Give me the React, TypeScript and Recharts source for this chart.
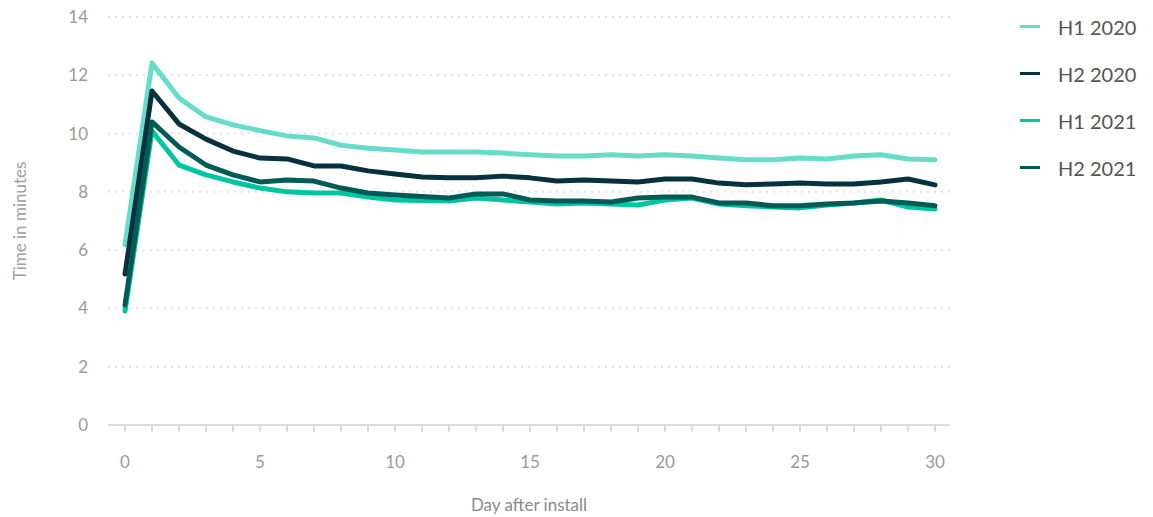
import React from 'react';
import { LineChart, Line, XAxis, YAxis, CartesianGrid } from 'recharts';

// days after install, 0..30
const days = [0, 1, 2, 3, 4, 5, 6, 7, 8, 9, 10, 11, 12, 13, 14, 15, 16, 17, 18, 19, 20, 21, 22, 23, 24, 25, 26, 27, 28, 29, 30];

const h1_2020 = [6.18, 12.42, 11.22, 10.57, 10.3, 10.1, 9.92, 9.85, 9.6, 9.5, 9.44, 9.37, 9.37, 9.37, 9.33, 9.27, 9.23, 9.23, 9.27, 9.23, 9.27, 9.23, 9.16, 9.1, 9.1, 9.16, 9.13, 9.23, 9.27, 9.13, 9.1];
const h2_2020 = [5.18, 11.46, 10.33, 9.81, 9.4, 9.16, 9.13, 8.89, 8.89, 8.72, 8.61, 8.51, 8.48, 8.48, 8.54, 8.48, 8.37, 8.41, 8.37, 8.34, 8.44, 8.44, 8.3, 8.24, 8.27, 8.3, 8.27, 8.27, 8.34, 8.44, 8.24];
const h1_2021 = [3.91, 10.09, 8.92, 8.58, 8.34, 8.13, 8.0, 7.96, 7.96, 7.82, 7.72, 7.7, 7.69, 7.79, 7.72, 7.65, 7.58, 7.62, 7.58, 7.55, 7.72, 7.79, 7.58, 7.52, 7.48, 7.45, 7.55, 7.62, 7.72, 7.48, 7.41];
const h2_2021 = [4.12, 10.4, 9.54, 8.92, 8.58, 8.34, 8.41, 8.37, 8.13, 7.96, 7.89, 7.84, 7.79, 7.93, 7.93, 7.72, 7.69, 7.69, 7.65, 7.79, 7.82, 7.82, 7.62, 7.62, 7.52, 7.52, 7.58, 7.62, 7.69, 7.62, 7.52];

const xTicks = [0, 5, 10, 15, 20, 25, 30];
const yTicks = [0, 2, 4, 6, 8, 10, 12, 14];

const SERIES = [
  { key: 'h1_2020', name: 'H1 2020', color: '#66DCC9' },
  { key: 'h2_2020', name: 'H2 2020', color: '#07313C' },
  { key: 'h1_2021', name: 'H1 2021', color: '#00C4A2' },
  { key: 'h2_2021', name: 'H2 2021', color: '#005B56' },
];

const data = days.map((d, i) => ({
  day: d,
  h1_2020: h1_2020[i],
  h2_2020: h2_2020[i],
  h1_2021: h1_2021[i],
  h2_2021: h2_2021[i],
}));

const FONT = 'Lato, "Open Sans", sans-serif';
const tickStyle = { fill: '#9a9a9a', fontSize: 17, fontFamily: FONT };

export default function App() {
  return (
    <div style={{ position: 'absolute', left: 0, top: 0, width: 1153, height: 517, background: '#fff', fontFamily: FONT }}>
      <LineChart width={1153} height={517} data={data} margin={{ top: 17, right: 203, bottom: 6, left: 48 }}>
        <CartesianGrid vertical={false} stroke="#e2e2e2" strokeWidth={2} strokeDasharray="2 5" />
        <XAxis
          dataKey="day"
          type="number"
          domain={[0, 30]}
          ticks={days}
          tickFormatter={(v: number) => (xTicks.includes(v) ? String(v) : '')}
          interval={0}
          padding={{ left: 17, right: 15 }}
          height={86}
          stroke="#dcdcdc"
          strokeWidth={2}
          tickSize={7}
          tickMargin={24}
          tick={tickStyle}
          label={{ value: 'Day after install', position: 'insideBottom', offset: 0, fill: '#8a8a8a', fontSize: 17, fontFamily: FONT }}
        />
        <YAxis
          domain={[0, 14]}
          ticks={yTicks}
          width={60}
          axisLine={false}
          tickLine={false}
          tickSize={6}
          tickMargin={14}
          tick={tickStyle}
          label={{ value: 'Time in minutes', angle: -90, position: 'insideLeft', offset: -28, fill: '#a0a0a0', fontSize: 17, fontFamily: FONT, style: { textAnchor: 'middle' } }}
        />
        {SERIES.map((s) => (
          <Line
            key={s.key}
            dataKey={s.key}
            name={s.name}
            stroke={s.color}
            strokeWidth={5}
            dot={false}
            strokeLinejoin="round"
            strokeLinecap="round"
            isAnimationActive={false}
          />
        ))}
      </LineChart>
      <div style={{ position: 'absolute', left: 1020, top: 3 }}>
        {SERIES.map((s) => (
          <div key={s.key} style={{ display: 'flex', alignItems: 'center', height: 47 }}>
            <div style={{ width: 20, height: 3, background: s.color, marginRight: 18 }} />
            <span style={{ fontSize: 20, color: '#555', fontFamily: FONT }}>{s.name}</span>
          </div>
        ))}
      </div>
    </div>
  );
}
